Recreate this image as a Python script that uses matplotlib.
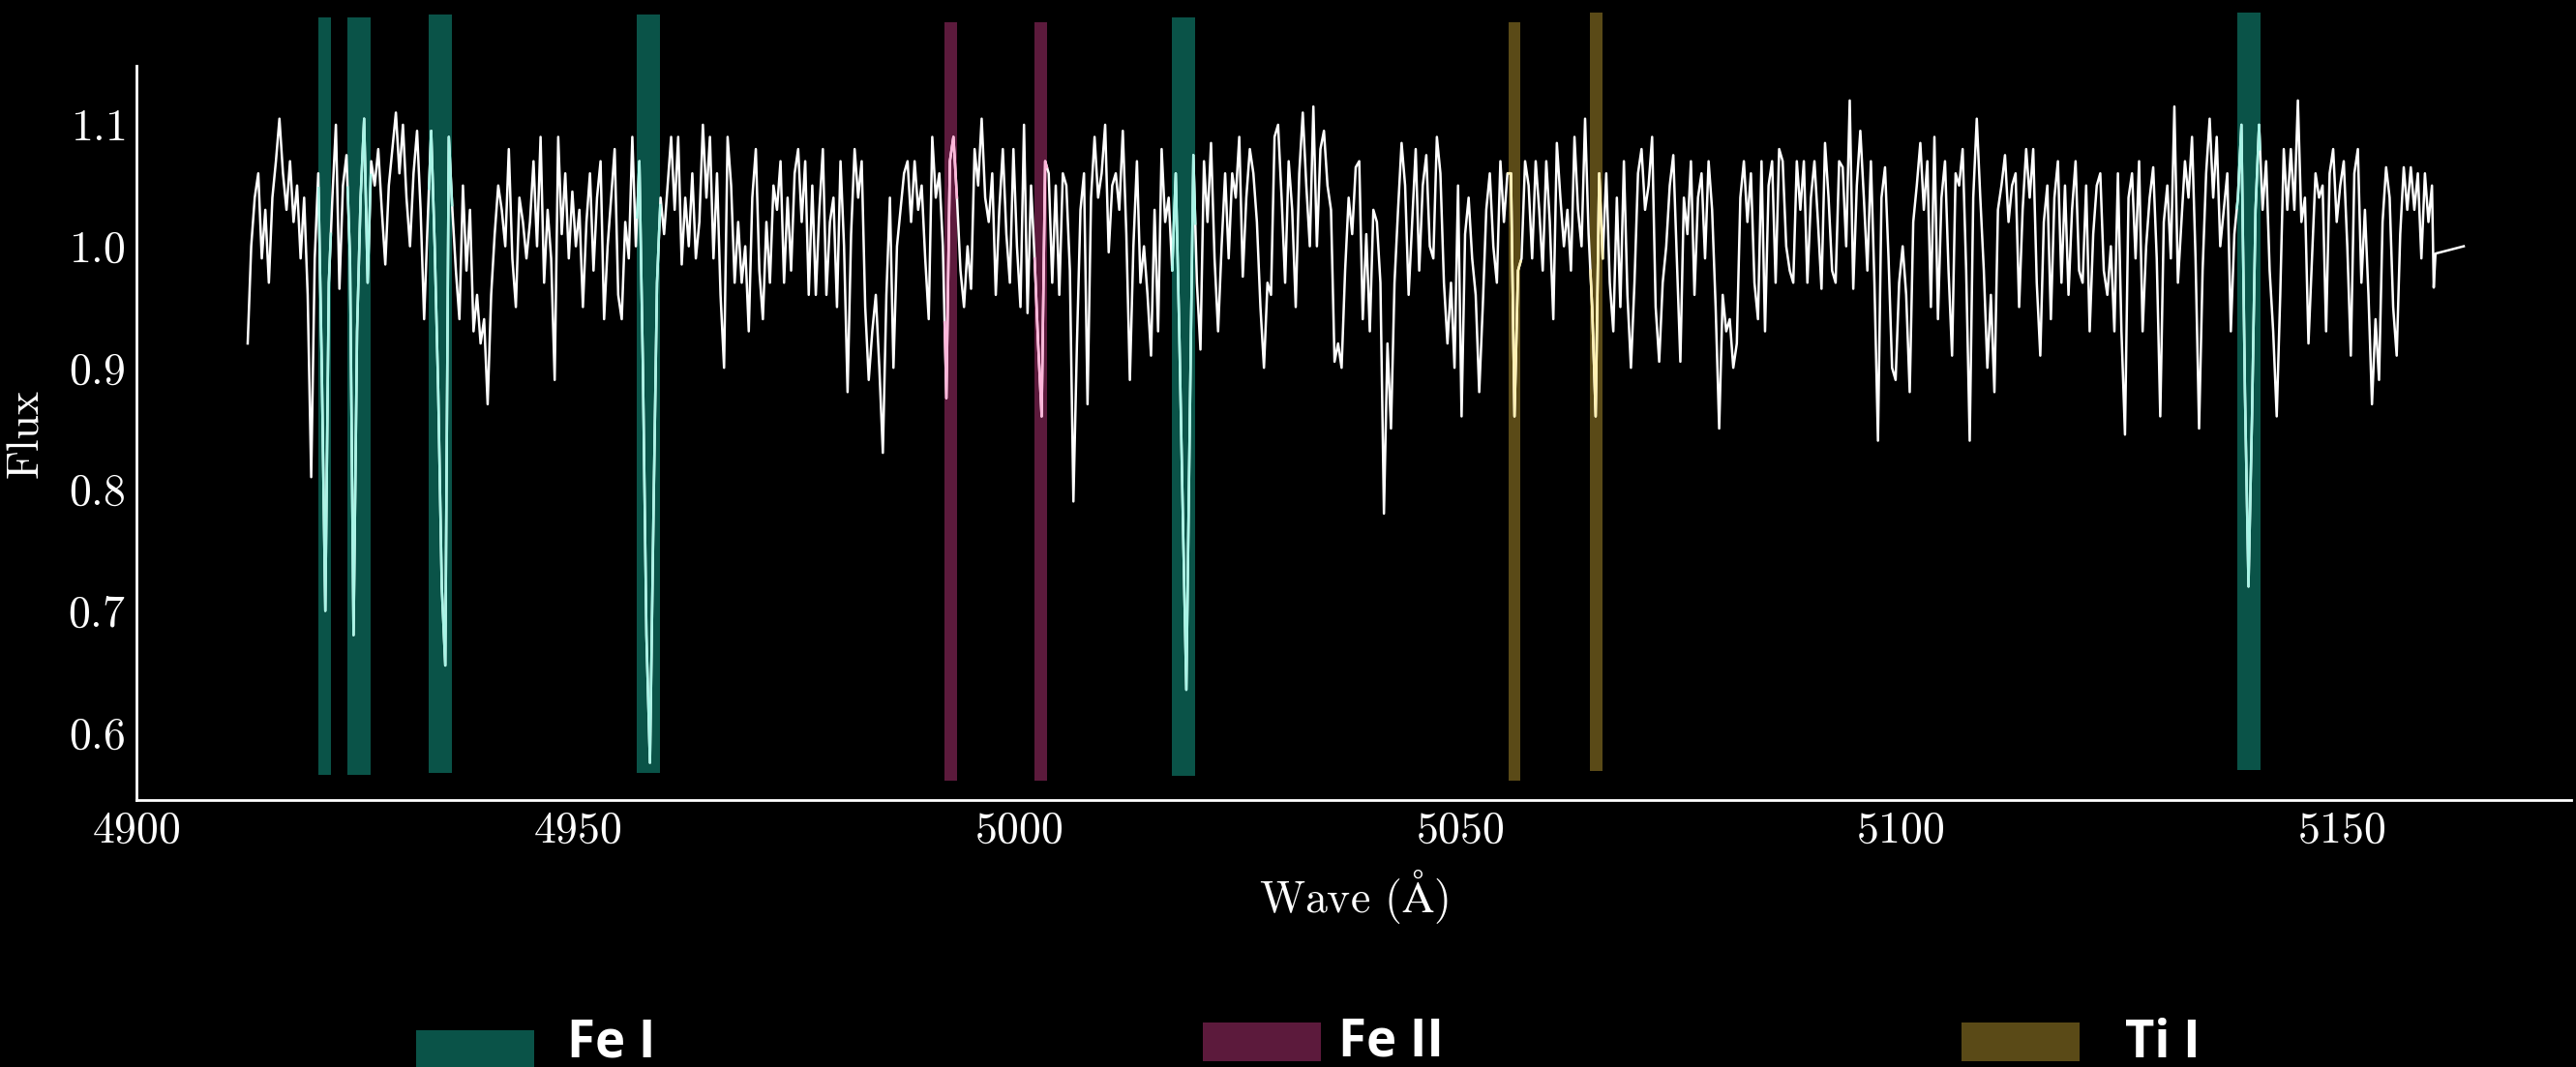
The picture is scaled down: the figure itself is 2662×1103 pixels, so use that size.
import numpy as np
import matplotlib
matplotlib.use("Agg")
import matplotlib.pyplot as plt
from matplotlib.patches import Rectangle

plt.rcParams['font.family'] = 'serif'
plt.rcParams['font.serif'] = ['cmr10']
plt.rcParams['mathtext.fontset'] = 'cm'
plt.rcParams['axes.formatter.use_mathtext'] = True

# normalised flux, one value every 0.4 A starting at 4912.6 A
flux = [
    0.92, 1.00, 1.04, 1.06, 0.99, 1.03, 0.97, 1.04, 1.07, 1.105,
    1.06, 1.03, 1.07, 1.02, 1.05, 0.99, 1.04, 0.96, 0.81, 0.99,
    1.06, 0.90, 0.70, 0.97, 1.04, 1.10, 0.965, 1.05, 1.075, 0.99,
    0.68, 0.93, 1.04, 1.105, 0.97, 1.07, 1.05, 1.08, 1.03, 0.985,
    1.05, 1.08, 1.11, 1.06, 1.10, 1.04, 1.00, 1.06, 1.095, 1.03,
    0.94, 1.02, 1.095, 1.00, 0.88, 0.72, 0.655, 1.09, 1.03, 0.98,
    0.94, 1.05, 0.98, 1.03, 0.93, 0.96, 0.92, 0.94, 0.87, 0.96,
    1.01, 1.05, 1.03, 1.00, 1.08, 0.99, 0.95, 1.04, 1.02, 0.99,
    1.02, 1.07, 1.00, 1.09, 0.97, 1.03, 0.99, 0.89, 1.09, 1.01,
    1.06, 0.99, 1.045, 1.00, 1.03, 0.95, 1.02, 1.06, 0.98, 1.04,
    1.07, 0.94, 1.00, 1.04, 1.08, 0.96, 0.94, 1.02, 0.99, 1.09,
    1.00, 1.07, 0.90, 0.68, 0.575, 0.78, 0.97, 1.04, 1.01, 1.05,
    1.09, 1.03, 1.09, 0.985, 1.04, 1.00, 1.06, 0.99, 1.02, 1.10,
    1.04, 1.09, 0.99, 1.06, 0.96, 0.90, 1.09, 1.05, 0.97, 1.02,
    0.97, 1.00, 0.93, 1.04, 1.08, 0.98, 0.94, 1.02, 0.97, 1.05,
    1.03, 1.07, 0.97, 1.04, 0.98, 1.06, 1.08, 1.02, 1.07, 0.96,
    1.05, 0.96, 1.03, 1.08, 0.96, 1.02, 1.04, 0.95, 1.07, 1.00,
    0.88, 1.01, 1.08, 1.04, 1.07, 0.95, 0.89, 0.93, 0.96, 0.90,
    0.83, 0.96, 1.04, 0.90, 1.00, 1.03, 1.06, 1.07, 1.02, 1.07,
    1.03, 1.05, 0.99, 0.94, 1.09, 1.04, 1.06, 1.00, 0.875, 1.07,
    1.09, 1.04, 0.98, 0.95, 1.00, 0.965, 1.08, 1.05, 1.105, 1.04,
    1.02, 1.06, 0.96, 1.03, 1.08, 1.01, 0.97, 1.08, 1.00, 0.95,
    1.10, 0.945, 1.05, 0.99, 0.92, 0.86, 1.07, 1.06, 0.97, 1.05,
    0.96, 1.06, 1.05, 0.98, 0.79, 0.92, 1.03, 1.06, 0.87, 1.04,
    1.09, 1.04, 1.06, 1.10, 0.995, 1.05, 1.06, 1.03, 1.095, 1.01,
    0.89, 1.00, 1.07, 0.97, 1.00, 0.96, 0.91, 1.03, 0.93, 1.08,
    1.02, 1.04, 0.98, 1.06, 0.93, 0.78, 0.635, 0.86, 1.075, 0.97,
    0.915, 1.07, 1.02, 1.085, 0.99, 0.93, 1.00, 1.06, 0.99, 1.06,
    1.04, 1.09, 0.975, 1.04, 1.08, 1.06, 1.02, 0.95, 0.90, 0.97,
    0.96, 1.09, 1.10, 1.04, 0.97, 1.07, 1.03, 0.95, 1.06, 1.11,
    1.05, 1.00, 1.115, 1.00, 1.08, 1.095, 1.05, 1.03, 0.905, 0.92,
    0.90, 0.98, 1.04, 1.01, 1.065, 1.07, 0.94, 1.01, 0.93, 1.03,
    1.02, 0.97, 0.78, 0.92, 0.85, 0.97, 1.03, 1.085, 1.05, 0.96,
    1.02, 1.08, 0.98, 1.05, 1.075, 1.00, 0.99, 1.09, 1.06, 0.97,
    0.92, 0.97, 0.90, 1.05, 0.86, 1.01, 1.04, 0.99, 0.96, 0.88,
    0.95, 1.03, 1.06, 1.00, 0.97, 1.07, 1.02, 1.06, 1.06, 0.86,
    0.98, 0.99, 1.07, 1.05, 0.99, 1.07, 1.03, 0.98, 1.07, 1.02,
    0.94, 1.085, 1.04, 1.00, 1.03, 0.98, 1.09, 1.03, 1.00, 1.105,
    1.01, 0.95, 0.86, 1.06, 0.99, 1.06, 0.97, 0.93, 1.04, 0.95,
    1.07, 0.96, 0.90, 0.97, 1.06, 1.08, 1.03, 1.05, 1.09, 0.95,
    0.905, 0.97, 1.00, 1.05, 1.075, 0.99, 0.905, 1.04, 1.01, 1.07,
    0.96, 1.04, 1.06, 0.99, 1.07, 1.03, 0.95, 0.85, 0.96, 0.93,
    0.94, 0.90, 0.92, 1.04, 1.07, 1.02, 1.06, 0.97, 0.94, 1.07,
    0.93, 1.05, 1.07, 0.97, 1.08, 1.07, 1.00, 0.98, 0.97, 1.07,
    1.03, 1.07, 0.97, 1.04, 1.07, 1.02, 0.965, 1.085, 1.04, 0.98,
    0.97, 1.07, 1.065, 1.00, 1.12, 0.965, 1.05, 1.095, 1.04, 0.98,
    1.07, 0.97, 0.84, 1.04, 1.065, 0.99, 0.90, 0.89, 0.97, 1.00,
    0.96, 0.88, 1.02, 1.05, 1.085, 1.03, 1.07, 0.95, 1.09, 0.94,
    1.04, 1.07, 0.98, 0.91, 1.06, 1.05, 1.08, 0.98, 0.84, 1.04,
    1.105, 1.04, 0.98, 0.90, 0.96, 0.88, 1.03, 1.05, 1.075, 1.02,
    1.05, 1.06, 0.95, 1.03, 1.08, 1.04, 1.08, 0.97, 0.91, 1.02,
    1.05, 0.94, 1.04, 1.07, 0.97, 1.05, 0.96, 1.03, 1.07, 0.98,
    0.97, 1.05, 0.93, 1.01, 1.05, 1.06, 0.98, 0.96, 1.00, 0.93,
    1.06, 0.93, 0.845, 1.04, 1.06, 0.99, 1.07, 0.93, 1.00, 1.04,
    1.065, 0.99, 0.86, 1.02, 1.05, 0.99, 1.115, 0.97, 1.02, 1.07,
    1.04, 1.09, 0.99, 0.85, 0.98, 1.06, 1.105, 1.04, 1.09, 1.00,
    1.03, 1.06, 0.93, 1.01, 1.04, 1.10, 0.88, 0.72, 0.86, 1.03,
    1.10, 1.03, 1.07, 0.98, 0.93, 0.86, 0.96, 1.08, 1.03, 1.08,
    1.03, 1.12, 1.02, 1.04, 0.92, 0.99, 1.06, 1.04, 1.05, 0.93,
    1.06, 1.08, 1.02, 1.05, 1.07, 1.00, 0.91, 1.06, 1.08, 0.97,
    1.03, 0.96, 0.87, 0.94, 0.89, 1.02, 1.065, 1.04, 0.95, 0.91,
    1.01, 1.065, 1.03, 1.065, 1.03, 1.06, 0.99, 1.06, 1.02, 1.05,
]
wave_start = 4912.6
wave_step = 0.4

# short stretch past the last order
tail_wave = [5160.4, 5160.6, 5163.8]
tail_flux = [0.966, 0.994, 1.000]

# line windows: centre, width, lower and upper edge of the shaded bar
species = ['Fe I', 'Fe I', 'Fe I', 'Fe I', 'Fe II', 'Fe II', 'Fe I', 'Ti I', 'Ti I', 'Fe I']
line_centre = [4921.33, 4925.24, 4934.46, 4958.05, 4992.3, 5002.5, 5018.7, 5056.2, 5065.5, 5139.4]
line_width = [1.4, 2.63, 2.63, 2.63, 1.4, 1.4, 2.63, 1.4, 1.4, 2.63]
bar_low = [0.565, 0.565, 0.567, 0.567, 0.560, 0.560, 0.564, 0.560, 0.568, 0.569]
bar_high = [1.188, 1.188, 1.191, 1.191, 1.184, 1.184, 1.188, 1.184, 1.192, 1.192]

legend_names = ['Fe I', 'Fe II', 'Ti I']
band_colour = {'Fe I': '#0a5348', 'Fe II': '#5c1a3c', 'Ti I': '#5a4a17'}
trace_colour = {'Fe I': '#a8f4e6', 'Fe II': '#ffb6da', 'Ti I': '#fff0b2'}

wave = np.round(wave_start + wave_step * np.arange(len(flux)), 2)
all_wave = np.concatenate([wave, tail_wave])
all_flux = np.concatenate([flux, tail_flux])

fig = plt.figure(figsize=(26.62, 11.03), dpi=100, facecolor='black')
ax = fig.add_axes([0.053, 0.2502, 0.9452, 0.6879])
ax.set_facecolor('black')

ax.bar(line_centre, np.subtract(bar_high, bar_low), bottom=bar_low,
       width=line_width, color=[band_colour[s] for s in species],
       clip_on=False, zorder=1)

ax.plot(all_wave, all_flux, color='white', lw=1.8, zorder=2)

# recolour the spectrum inside each window
for s, c, w in zip(species, line_centre, line_width):
    lo, hi = c - w / 2, c + w / 2
    inside = wave[(wave > lo) & (wave < hi)]
    xs = np.concatenate([[lo], inside, [hi]])
    ys = np.interp(xs, all_wave, all_flux)
    ax.plot(xs, ys, color=trace_colour[s], lw=1.8, zorder=3)

ax.set_xlim(4900, 5176)
ax.set_ylim(0.5443, 1.1483)
ax.set_xticks([4900, 4950, 5000, 5050, 5100, 5150])
ax.set_yticks([0.6, 0.7, 0.8, 0.9, 1.0, 1.1])
ax.tick_params(colors='white', labelsize=33, length=0, pad=8)

for side in ['top', 'right']:
    ax.spines[side].set_visible(False)
for side in ['left', 'bottom']:
    ax.spines[side].set_color('white')
    ax.spines[side].set_linewidth(2)

ax.set_xlabel(r'Wave ($\mathrm{\AA}$)', color='white', fontsize=33, labelpad=12)
ax.set_ylabel('Flux', color='white', fontsize=33, labelpad=16)

# legend along the bottom edge
leg_patch_x = [0.1615, 0.4670, 0.7615]
leg_patch_y = [-0.0018, 0.0054, 0.0054]
leg_text_x = [0.2201, 0.5195, 0.8249]
leg_text_y = [0.0095, 0.0100, 0.0095]
for name, px, py, tx, ty in zip(legend_names, leg_patch_x, leg_patch_y, leg_text_x, leg_text_y):
    fig.add_artist(Rectangle((px, py), 0.0458, 0.0363, transform=fig.transFigure,
                             facecolor=band_colour[name], edgecolor='none'))
    fig.text(tx, ty, name, color='white', fontsize=38, fontweight='bold',
             family=['Open Sans', 'DejaVu Sans'], va='baseline')

fig.savefig('out.png', dpi=100, facecolor='black')
